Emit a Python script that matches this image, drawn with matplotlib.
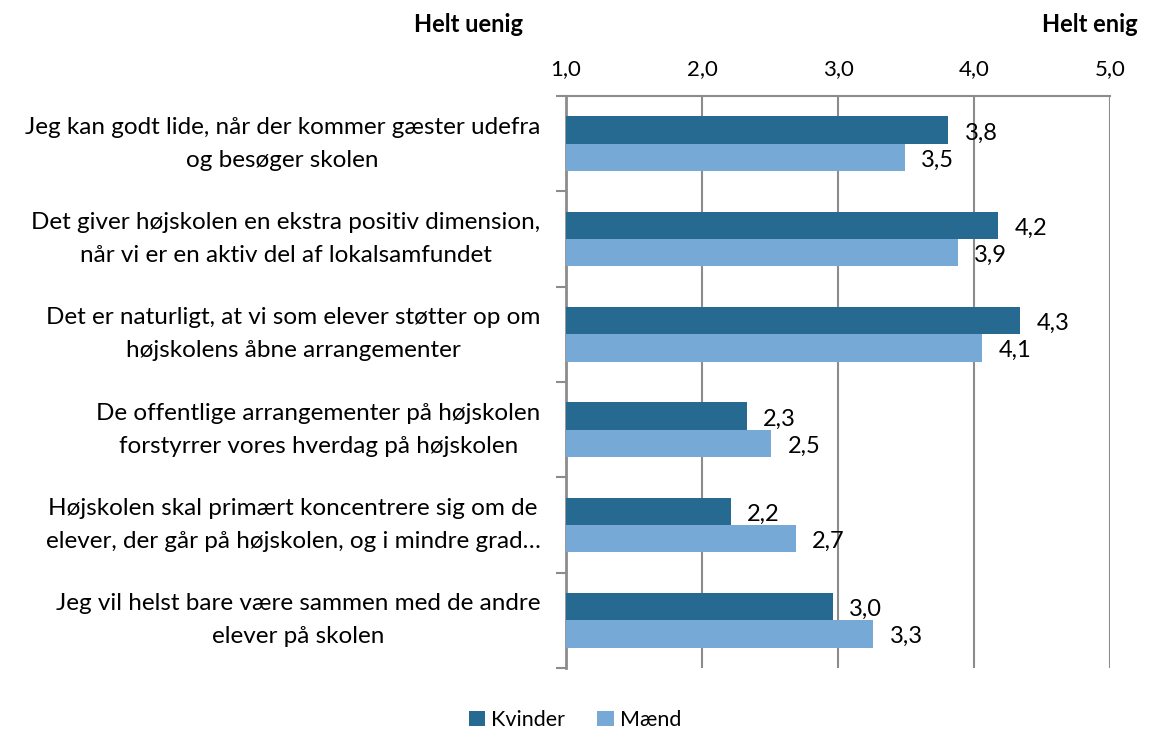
import numpy as np
import matplotlib.pyplot as plt

plt.rcParams['font.family'] = ['Lato', 'DejaVu Sans']

categories = [
    "Jeg kan godt lide, når der kommer gæster udefra\nog besøger skolen",
    "Det giver højskolen en ekstra positiv dimension,\nnår vi er en aktiv del af lokalsamfundet",
    "Det er naturligt, at vi som elever støtter op om\nhøjskolens åbne arrangementer",
    "De offentlige arrangementer på højskolen\nforstyrrer vores hverdag på højskolen",
    "Højskolen skal primært koncentrere sig om de\nelever, der går på højskolen, og i mindre grad…",
    "Jeg vil helst bare være sammen med de andre\nelever på skolen",
]
kvinder = [3.81, 4.18, 4.34, 2.33, 2.21, 2.96]
maend = [3.49, 3.88, 4.06, 2.51, 2.69, 3.26]
ticks = [1.0, 2.0, 3.0, 4.0, 5.0]

c_kv = '#266991'
c_ma = '#76a9d6'
grid_c = '#8c8c8c'

fig = plt.figure(figsize=(11.5, 7.31), dpi=100)
ax = fig.add_axes([566 / 1150, 1 - 668 / 731, (1110 - 566) / 1150, (668 - 96) / 731])

y = np.arange(len(categories))
h = 0.285
ax.barh(y - h / 2, np.array(kvinder) - 1, left=1, height=h, color=c_kv, label='Kvinder', zorder=3)
ax.barh(y + h / 2, np.array(maend) - 1, left=1, height=h, color=c_ma, label='Mænd', zorder=3)

for yi, v in zip(y, kvinder):
    ax.text(v + 0.12, yi - h / 2 + 0.03, f"{v:.1f}".replace('.', ','), va='center', ha='left', fontsize=17)
for yi, v in zip(y, maend):
    ax.text(v + 0.12, yi + h / 2 + 0.03, f"{v:.1f}".replace('.', ','), va='center', ha='left', fontsize=17)

ax.set_xlim(1, 5)
ax.set_ylim(len(categories) - 0.5, -0.5)
ax.xaxis.tick_top()
ax.set_xticks(ticks)
ax.set_xticklabels([f"{t:.1f}".replace('.', ',') for t in ticks], fontsize=16)
ax.tick_params(axis='x', length=0, pad=12)
ax.set_yticks(np.arange(len(categories) + 1) - 0.5, minor=False)
ax.set_yticklabels([])
ax.tick_params(axis='y', direction='out', length=7, color=grid_c, width=1.5)
ax.grid(axis='x', color=grid_c, linewidth=1.5, zorder=0)

for s in ['right', 'bottom']:
    ax.spines[s].set_visible(False)
ax.spines['left'].set_color(grid_c)
ax.spines['left'].set_linewidth(2)
ax.spines['top'].set_color(grid_c)
ax.spines['top'].set_linewidth(1.5)

# x in axes coords, y in data
for yi, lab in zip(y, categories):
    ax.text(-0.047, yi, lab, transform=ax.get_yaxis_transform(), ha='right', va='center',
            multialignment='center', fontsize=17.5, linespacing=1.72)

fig.text(523 / 1150, 1 - 24 / 731, 'Helt uenig', ha='right', va='center', fontsize=17, fontweight='bold')
fig.text(1138 / 1150, 1 - 24 / 731, 'Helt enig', ha='right', va='center', fontsize=17, fontweight='bold')

fig.legend(loc='center', bbox_to_anchor=(0.5, 1 - 720 / 731), ncol=2, frameon=False, fontsize=15.5,
           handlelength=0.75, handleheight=0.75, handletextpad=0.3, columnspacing=1.5)

fig.savefig('out.png', dpi=100)
